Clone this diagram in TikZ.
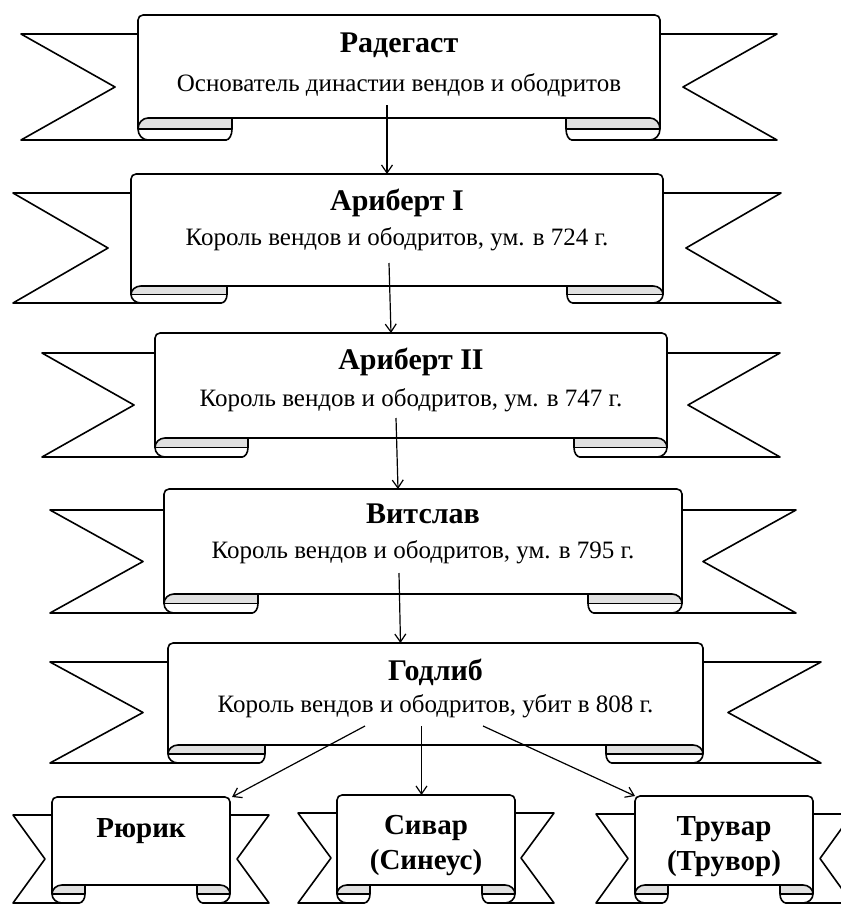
\documentclass[tikz,border=0pt]{standalone}
\usepackage{fontspec}
\setmainfont{Liberation Serif}
\usetikzlibrary{arrows.meta}
\definecolor{curlgray}{gray}{0.88}
\tikzset{
  ribline/.style={draw=black, line width=1.6pt, line join=round},
  conn/.style={line width=1.2pt, -{Straight Barb[length=8pt,width=11pt]}},
  ttl/.style={font=\fontsize{30}{32}\selectfont\bfseries, anchor=base, inner sep=0pt},
  ttlsm/.style={font=\fontsize{29}{31}\selectfont\bfseries, anchor=base, inner sep=0pt},
  subt/.style={font=\fontsize{25}{27}\selectfont, anchor=base, inner sep=0pt},
  panelbox/.style={inner sep=0pt, outer sep=0pt, draw=none},
}
% #1 L, #2 R, #3 top, #4 tail top, #5 panel bottom, #6 tail bottom, #7 tip distance, #8 notch depth, #9 curl width
\newcommand\ribbon[9]{%
  \pgfmathsetmacro\rbM{(#5+#6)/2}%
  \pgfmathsetmacro\rbN{(#4+#6)/2}%
  \pgfmathsetmacro\rbY{(#6-#5)/2}%
  \pgfmathsetmacro\rbK{0.55*\rbY}%
  \pgfmathsetmacro\rbCL{#1+#9}%
  \pgfmathsetmacro\rbCR{#2-#9}%
  \pgfmathsetmacro\rbX{min(10,#9/3.3)}%
  \pgfmathsetmacro\rbXk{0.45*\rbX}%
  \pgfmathsetmacro\rbS{6}%
  \pgfmathsetmacro\rbSk{0.45*\rbS}%
  % tails
  \draw[ribline, fill=white] (\rbCL-\rbS,#4) -- (#1-#7,#4) -- (#1-#7+#8,\rbN) -- (#1-#7,#6) -- (\rbCL-\rbS,#6) -- cycle;
  \draw[ribline, fill=white] (\rbCR+\rbS,#4) -- (#2+#7,#4) -- (#2+#7-#8,\rbN) -- (#2+#7,#6) -- (\rbCR+\rbS,#6) -- cycle;
  % panel
  \draw[ribline, fill=white, rounded corners=5pt] (#1,\rbM) -- (#1,#3) -- (#2,#3) -- (#2,\rbM);
  \draw[ribline] (\rbCL,#5) -- (\rbCR,#5);
  % left curl
  \fill[curlgray] (\rbCL,#5) -- (#1+\rbX,#5) .. controls (#1+\rbXk,#5) and (#1,\rbM-\rbK) .. (#1,\rbM) -- (\rbCL,\rbM) -- cycle;
  \fill[white] (#1,\rbM) .. controls (#1,\rbM+\rbK) and (#1+\rbXk,#6) .. (#1+\rbX,#6) -- (\rbCL-\rbS,#6) .. controls (\rbCL-\rbSk,#6) and (\rbCL,\rbM+\rbK) .. (\rbCL,\rbM) -- cycle;
  \draw[ribline] (\rbCL,#5) -- (#1+\rbX,#5) .. controls (#1+\rbXk,#5) and (#1,\rbM-\rbK) .. (#1,\rbM) .. controls (#1,\rbM+\rbK) and (#1+\rbXk,#6) .. (#1+\rbX,#6) -- (\rbCL-\rbS,#6) .. controls (\rbCL-\rbSk,#6) and (\rbCL,\rbM+\rbK) .. (\rbCL,\rbM) -- cycle;
  \draw[ribline] (#1,\rbM) -- (\rbCL,\rbM);
  % right curl
  \fill[curlgray] (\rbCR,#5) -- (#2-\rbX,#5) .. controls (#2-\rbXk,#5) and (#2,\rbM-\rbK) .. (#2,\rbM) -- (\rbCR,\rbM) -- cycle;
  \fill[white] (#2,\rbM) .. controls (#2,\rbM+\rbK) and (#2-\rbXk,#6) .. (#2-\rbX,#6) -- (\rbCR+\rbS,#6) .. controls (\rbCR+\rbSk,#6) and (\rbCR,\rbM+\rbK) .. (\rbCR,\rbM) -- cycle;
  \draw[ribline] (\rbCR,#5) -- (#2-\rbX,#5) .. controls (#2-\rbXk,#5) and (#2,\rbM-\rbK) .. (#2,\rbM) .. controls (#2,\rbM+\rbK) and (#2-\rbXk,#6) .. (#2-\rbX,#6) -- (\rbCR+\rbS,#6) .. controls (\rbCR+\rbSk,#6) and (\rbCR,\rbM+\rbK) .. (\rbCR,\rbM) -- cycle;
  \draw[ribline] (#2,\rbM) -- (\rbCR,\rbM);
}
\begin{document}
\begin{tikzpicture}[x=1pt, y=-1pt]
\useasboundingbox (0,0) rectangle (841,908);
\clip (0,0) rectangle (841,908);
\fill[white] (0,0) rectangle (841,908);

% banner 1
\ribbon{138}{660}{15}{34}{118}{140}{117}{94}{94}
\node[panelbox, minimum width=522pt, minimum height=103pt] (b1) at (399,66.5) {};
\node[ttl] (t1) at (399,52) {Радегаст};
\node[subt] (s1) at (399,91) {Основатель династии вендов и ободритов};

% banner 2
\ribbon{131}{663}{174}{193}{286}{303}{118}{95}{96}
\node[panelbox, minimum width=532pt, minimum height=112pt] (b2) at (397,230) {};
\node[ttl] (t2) at (397,210) {Ариберт I};
\node[subt] (s2) at (397,245) {Король вендов и ободритов, ум. в 724 г.};

% banner 3
\ribbon{155}{667}{333}{353}{438}{457}{113}{92}{93}
\node[panelbox, minimum width=512pt, minimum height=105pt] (b3) at (411,385.5) {};
\node[ttl] (t3) at (411,369) {Ариберт II};
\node[subt] (s3) at (411,406) {Король вендов и ободритов, ум. в 747 г.};

% banner 4
\ribbon{164}{682}{489}{510}{594}{613}{114}{93}{94}
\node[panelbox, minimum width=518pt, minimum height=105pt] (b4) at (423,541.5) {};
\node[ttl] (t4) at (423,523) {Витслав};
\node[subt] (s4) at (423,558) {Король вендов и ободритов, ум. в 795 г.};

% banner 5
\ribbon{168}{703}{643}{662}{745}{763}{118}{93}{97}
\node[panelbox, minimum width=535pt, minimum height=102pt] (b5) at (435.5,694) {};
\node[ttl] (t5) at (435.5,680) {Годлиб};
\node[subt] (s5) at (435.5,712) {Король вендов и ободритов, убит в 808 г.};

% bottom banners
\ribbon{52}{230}{797}{815}{885}{903}{39}{32}{33}
\node[panelbox, minimum width=178pt, minimum height=88pt] (b6) at (141,841) {};
\node[ttlsm] (t6) at (141,837) {Рюрик};

\ribbon{337}{515}{795}{813}{885}{903}{39}{33}{33}
\node[panelbox, minimum width=178pt, minimum height=90pt] (b7) at (426,840) {};
\node[ttlsm] (t7) at (426,834) {Сивар};
\node[ttlsm] (u7) at (426,869) {(Синеус)};

\ribbon{635}{813}{796}{814}{885}{903}{39}{32}{33}
\node[panelbox, minimum width=178pt, minimum height=89pt] (b8) at (724,840.5) {};
\node[ttlsm] (t8) at (724,835) {Трувар};
\node[ttlsm] (u8) at (724,870) {(Трувор)};

% connectors
\coordinate (a1s) at (387,105);
\coordinate (a2s) at (389,263);
\coordinate (a3s) at (396,418);
\coordinate (a4s) at (399,573);
\coordinate (a5s) at (365,726);
\coordinate (a6s) at (421.5,726);
\coordinate (a7s) at (483,726);
\draw[conn] (a1s) -- ([xshift=-10pt]b2.north);
\draw[conn] (a2s) -- ([xshift=-20pt]b3.north);
\draw[conn] (a3s) -- ([xshift=-25pt]b4.north);
\draw[conn] (a4s) -- ([xshift=-35pt]b5.north);
\draw[conn] (a5s) -- ([xshift=2pt]b6.north east);
\draw[conn] (a6s) -- ([xshift=-4.5pt]b7.north);
\draw[conn] (a7s) -- (b8.north west);
\end{tikzpicture}
\end{document}
